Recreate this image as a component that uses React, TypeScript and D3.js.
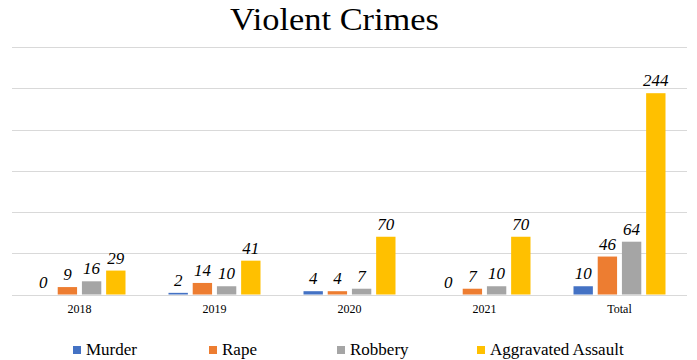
import React from "react";
import * as d3 from "d3";

const categories = ["2018", "2019", "2020", "2021", "Total"];
const seriesNames = ["Murder", "Rape", "Robbery", "Aggravated Assault"];
const murder = [0, 2, 4, 0, 10];
const rape = [9, 14, 4, 7, 46];
const robbery = [16, 10, 7, 10, 64];
const aggravated = [29, 41, 70, 70, 244];
const yTicks = [0, 50, 100, 150, 200, 250, 300];
const colors = ["#4472C4", "#ED7D31", "#A5A5A5", "#FFC000"];

const W = 697;
const H = 360;
const serif = "'Liberation Serif', 'DejaVu Serif', serif";

export default function App() {
  const series = [murder, rape, robbery, aggravated];
  const x = d3.scaleBand<string>().domain(categories).range([12, 687]).paddingInner(0).paddingOuter(0);
  const inner = d3
    .scaleBand<number>()
    .domain([0, 1, 2, 3])
    .range([21.5, x.bandwidth() - 21.5])
    .paddingInner(0.2)
    .paddingOuter(0);
  const y = d3.scaleLinear().domain([0, 300]).range([294.5, 47]);

  const legendX = [73, 209, 337, 477];

  return (
    <svg width={W} height={H} style={{ position: "absolute", left: 0, top: 0, background: "#fff" }}>
      <text
        x={230}
        y={30}
        textAnchor="start"
        fontFamily={serif}
        fontSize={31}
        textLength={209}
        lengthAdjust="spacingAndGlyphs"
        fill="#000"
      >
        Violent Crimes
      </text>
      {yTicks.map((t) => (
        <line key={t} x1={12} x2={687} y1={Math.round(y(t)) + 0.5} y2={Math.round(y(t)) + 0.5} stroke="#D9D9D9" strokeWidth={1} />
      ))}
      {categories.map((c, ci) => (
        <g key={c} transform={`translate(${x(c)},0)`}>
          {series.map((s, si) => {
            const v = s[ci];
            const bx = inner(si)!;
            const bw = inner.bandwidth();
            return (
              <g key={si}>
                <rect x={bx} y={y(v)} width={bw} height={y(0) - y(v)} fill={colors[si]} />
                <text
                  x={bx + bw / 2}
                  y={y(v) - 7}
                  textAnchor="middle"
                  fontFamily={serif}
                  fontStyle="italic"
                  fontSize={17}
                  fill="#000"
                >
                  {v}
                </text>
              </g>
            );
          })}
          <text x={x.bandwidth() / 2} y={313} textAnchor="middle" fontFamily={serif} fontSize={12} fill="#000">
            {c}
          </text>
        </g>
      ))}
      {seriesNames.map((n, i) => (
        <g key={n}>
          <rect x={legendX[i]} y={346} width={8} height={8} fill={colors[i]} />
          <text x={legendX[i] + 13} y={355} fontFamily={serif} fontSize={17} fill="#000">
            {n}
          </text>
        </g>
      ))}
    </svg>
  );
}
